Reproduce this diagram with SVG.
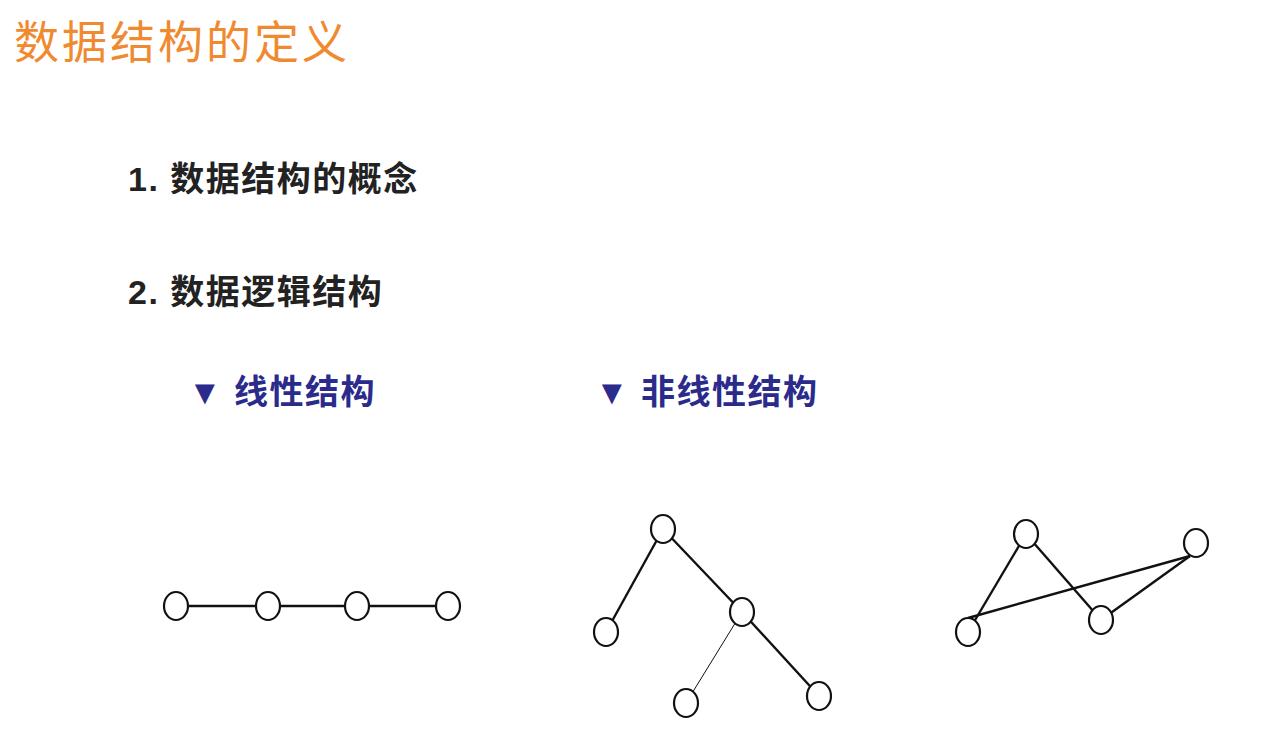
<svg xmlns="http://www.w3.org/2000/svg" width="1269" height="742" viewBox="0 0 1269 742">
<style>
.n{fill:#fff;stroke:#111;stroke-width:2.2}
.e{stroke:#111;stroke-width:2.4}
.t{font-family:"Liberation Sans","Noto Sans CJK SC",sans-serif}
.h{font-size:34px;fill:#222;font-weight:bold;letter-spacing:1.5px}
.b{font-size:34px;fill:#2b2b8c;font-weight:bold;letter-spacing:1.5px}
</style>
<rect width="1269" height="742" fill="#fff"/>
<text class="t" x="14" y="59" font-size="45" fill="#f08a30" letter-spacing="3">数据结构的定义</text>
<text class="t h" x="128" y="191">1. 数据结构的概念</text>
<text class="t h" x="128" y="304">2. 数据逻辑结构</text>
<text class="t b" x="188" y="404">▼ 线性结构</text>
<text class="t b" x="595" y="404">▼ 非线性结构</text>
<g id="connectors">
<line class="e" x1="176" y1="606" x2="448" y2="606"/>
<line class="e" x1="663" y1="529" x2="606" y2="632"/>
<line class="e" x1="663" y1="529" x2="742" y2="612"/>
<line x1="742" y1="612" x2="686" y2="703" stroke="#111" stroke-width="1"/>
<line class="e" x1="742" y1="612" x2="819" y2="696"/>
<line class="e" x1="1026" y1="534" x2="968" y2="632"/>
<line class="e" x1="1026" y1="534" x2="1101" y2="620"/>
<line class="e" x1="968" y1="618" x2="1190" y2="556"/>
<line class="e" x1="1101" y1="620" x2="1190" y2="556"/>
</g>
<g id="l1"><ellipse class="n" cx="176" cy="606" rx="12" ry="14"/></g>
<g id="l2"><ellipse class="n" cx="268" cy="606" rx="12" ry="14"/></g>
<g id="l3"><ellipse class="n" cx="357" cy="606" rx="12" ry="14"/></g>
<g id="l4"><ellipse class="n" cx="448" cy="606" rx="12" ry="14"/></g>
<g id="t1"><ellipse class="n" cx="663" cy="529" rx="12" ry="14"/></g>
<g id="t2"><ellipse class="n" cx="606" cy="632" rx="12" ry="14"/></g>
<g id="t3"><ellipse class="n" cx="742" cy="612" rx="12" ry="14"/></g>
<g id="t4"><ellipse class="n" cx="686" cy="703" rx="12" ry="14"/></g>
<g id="t5"><ellipse class="n" cx="819" cy="696" rx="12" ry="14"/></g>
<g id="g1"><ellipse class="n" cx="1026" cy="534" rx="12" ry="14"/></g>
<g id="g2"><ellipse class="n" cx="968" cy="632" rx="12" ry="14"/></g>
<g id="g3"><ellipse class="n" cx="1101" cy="620" rx="12" ry="14"/></g>
<g id="g4"><ellipse class="n" cx="1196" cy="543" rx="12" ry="14"/></g>
</svg>
